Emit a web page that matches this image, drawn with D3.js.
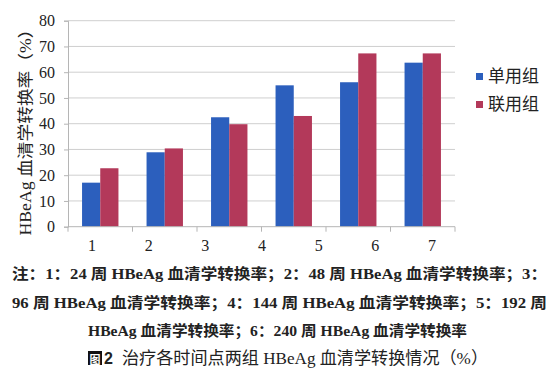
<!DOCTYPE html>
<html>
<head>
<meta charset="utf-8">
<script src="https://cdn.jsdelivr.net/npm/d3@7/dist/d3.min.js"></script>
<style>
  html, body { margin: 0; padding: 0; background: #fff; }
  svg { display: block; }
  text { fill: #222; }
</style>
</head>
<body>
<svg id="chart" width="560" height="381"></svg>
<script>
const categories = ["1", "2", "3", "4", "5", "6"];
const axisLabels = ["1", "2", "3", "4", "5", "6", "7"];
const seriesNames = ["单用组", "联用组"];
const singleGroup = [17.1, 28.9, 42.5, 54.9, 56.1, 63.7];
const combinedGroup = [22.7, 30.4, 39.8, 43.0, 67.3, 67.3];
const yTicks = [0, 10, 20, 30, 40, 50, 60, 70, 80];
const yTitle = "HBeAg 血清学转换率（%）";
const noteLines = [
  "注：1：24 周 HBeAg 血清学转换率；2：48 周 HBeAg 血清学转换率；3：",
  "96 周 HBeAg 血清学转换率；4：144 周 HBeAg 血清学转换率；5：192 周",
  "HBeAg 血清学转换率；6：240 周 HBeAg 血清学转换率"
];
const captionText = "治疗各时间点两组 HBeAg 血清学转换情况（%）";

const colors = ["#2c5fbd", "#b3395a"];
const serif = "'Liberation Serif', 'Noto Sans CJK SC', serif";

const svg = d3.select("#chart");
const plot = { left: 68, right: 455, top: 20.7, bottom: 226.7 };

const x = d3.scaleBand().domain(categories).range([plot.left, plot.right]).paddingInner(0).paddingOuter(0);
const xs = d3.scaleBand().domain(seriesNames).range([0, x.bandwidth()]).paddingInner(0).paddingOuter(0.772);
const y = d3.scaleLinear().domain([0, 80]).range([plot.bottom, plot.top]);
const xLab = d3.scalePoint().domain(axisLabels).range([92, 432]);

// gridlines
svg.append("g").selectAll("line").data(yTicks.filter(d => d > 0)).join("line")
  .attr("x1", plot.left).attr("x2", plot.right)
  .attr("y1", d => y(d)).attr("y2", d => y(d))
  .attr("stroke", "#cfcfcf").attr("stroke-width", 1);

// y axis
const yAxis = svg.append("g").attr("transform", `translate(${plot.left},0)`)
  .call(d3.axisLeft(y).tickValues(yTicks).tickSize(4).tickPadding(9));
yAxis.select(".domain").attr("stroke", "#b5b5b5");
yAxis.selectAll(".tick line").attr("stroke", "#b5b5b5");
yAxis.selectAll(".tick text").attr("font-family", serif).attr("font-size", 16).attr("fill", "#222");

// bars
const series = [singleGroup, combinedGroup];
series.forEach((vals, si) => {
  svg.append("g").selectAll("rect").data(categories).join("rect")
    .attr("x", (c) => x(c) + xs(seriesNames[si]))
    .attr("width", xs.bandwidth())
    .attr("y", (c, i) => y(vals[i]))
    .attr("height", (c, i) => y(0) - y(vals[i]))
    .attr("fill", colors[si]);
});

// x axis
const xAxis = svg.append("g").attr("transform", `translate(0,${plot.bottom})`);
xAxis.append("line").attr("x1", plot.left).attr("x2", plot.right).attr("y1", 0).attr("y2", 0)
  .attr("stroke", "#b5b5b5");
const boundaries = categories.map(c => x(c)).concat([x(categories[categories.length - 1]) + x.bandwidth()]);
xAxis.selectAll("line.tk").data(boundaries).join("line").attr("class", "tk")
  .attr("x1", d => d).attr("x2", d => d).attr("y1", 0).attr("y2", 5).attr("stroke", "#b5b5b5");
svg.append("g").selectAll("text").data(axisLabels).join("text")
  .attr("x", d => xLab(d)).attr("y", 245)
  .attr("text-anchor", "middle").attr("dominant-baseline", "central")
  .attr("font-family", serif).attr("font-size", 16).text(d => d);

// y title
svg.append("text")
  .attr("transform", "translate(25,128) rotate(-90)")
  .attr("text-anchor", "middle").attr("dominant-baseline", "central")
  .attr("font-family", serif).attr("font-size", 16)
  .attr("textLength", 215).attr("lengthAdjust", "spacingAndGlyphs")
  .text(yTitle);

// legend
const leg = svg.append("g");
seriesNames.forEach((n, i) => {
  const cy = 76 + i * 28;
  leg.append("rect").attr("x", 476).attr("y", cy - 3).attr("width", 7).attr("height", 7).attr("fill", colors[i]);
  leg.append("text").attr("x", 488).attr("y", cy).attr("dominant-baseline", "central")
    .attr("font-family", serif).attr("font-size", 17).text(n);
});

// notes
const noteLayout = [
  { x: 12, y: 273.5, w: 535 },
  { x: 12, y: 303, w: 535 },
  { x: 88, y: 330.5, w: 379 }
];
noteLines.forEach((t, i) => {
  svg.append("text")
    .attr("x", noteLayout[i].x).attr("y", noteLayout[i].y)
    .attr("dominant-baseline", "central")
    .attr("font-family", serif).attr("font-weight", "bold").attr("font-size", 15)
    .attr("textLength", noteLayout[i].w).attr("lengthAdjust", "spacingAndGlyphs")
    .text(t);
});

// caption
svg.append("rect").attr("x", 88).attr("y", 351).attr("width", 14).attr("height", 14).attr("fill", "#111");
svg.append("text").attr("x", 95).attr("y", 358.5).attr("text-anchor", "middle").attr("dominant-baseline", "central")
  .attr("font-family", "'Noto Sans CJK SC', sans-serif").attr("font-size", 11).attr("font-weight", "bold")
  .style("fill", "#fff").text("图");
svg.append("text").attr("x", 104).attr("y", 358.5).attr("dominant-baseline", "central")
  .attr("font-family", "'Liberation Sans', sans-serif").attr("font-weight", "bold").attr("font-size", 16).text("2");
svg.append("text").attr("x", 122).attr("y", 358.5).attr("dominant-baseline", "central")
  .attr("font-family", serif).attr("font-size", 17)
  .attr("textLength", 366).attr("lengthAdjust", "spacingAndGlyphs")
  .text(captionText);
</script>
</body>
</html>
